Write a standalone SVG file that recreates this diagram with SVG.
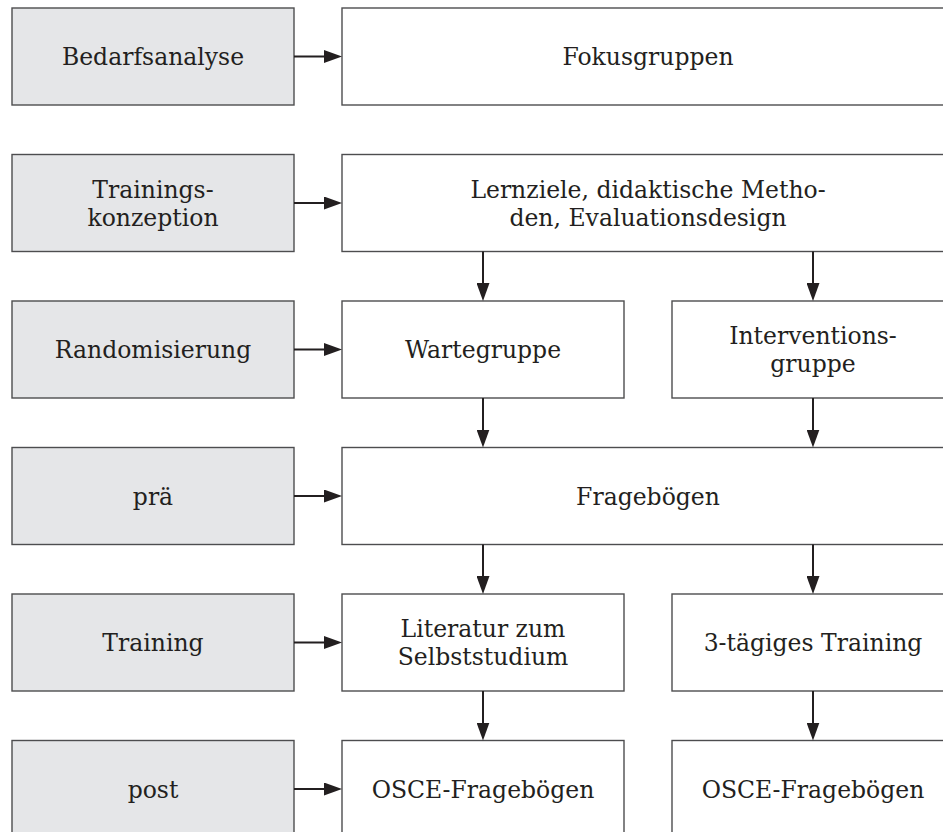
<svg xmlns="http://www.w3.org/2000/svg" width="943" height="832" viewBox="0 0 943 832">
<style>
  .bg { fill: #ffffff; }
  .lbox { fill: #e5e6e8; stroke: #4d4d4f; stroke-width: 1.4; }
  .rbox { fill: #ffffff; stroke: #4d4d4f; stroke-width: 1.4; }
  text { font-family: "DejaVu Serif", "Liberation Serif", serif; font-size: 23.5px; fill: #231f20; text-anchor: middle; }
  .conn line { stroke: #231f20; stroke-width: 2; fill: none; }
</style>
<defs>
  <marker id="ah" viewBox="0 0 18 13" refX="10" refY="6.5" markerWidth="18" markerHeight="13" markerUnits="userSpaceOnUse" orient="auto">
    <path d="M0,0 L18,6.5 L0,13 Z" fill="#231f20"/>
  </marker>
</defs>
<rect class="bg" x="0" y="0" width="943" height="832"/>

<g id="n-bedarf"><rect class="lbox" x="12" y="8" width="282" height="97"/><text x="153" y="65">Bedarfsanalyse</text></g>
<g id="n-fokus"><rect class="rbox" x="342" y="8" width="612" height="97"/><text x="648" y="65">Fokusgruppen</text></g>

<g id="n-konzeption"><rect class="lbox" x="12" y="154.5" width="282" height="97"/><text x="153" y="197.5">Trainings-</text><text x="153" y="225.5">konzeption</text></g>
<g id="n-lernziele"><rect class="rbox" x="342" y="154.5" width="612" height="97"/><text x="648" y="197.5">Lernziele, didaktische Metho-</text><text x="648" y="225.5">den, Evaluationsdesign</text></g>

<g id="n-random"><rect class="lbox" x="12" y="301" width="282" height="97"/><text x="153" y="358">Randomisierung</text></g>
<g id="n-warte"><rect class="rbox" x="342" y="301" width="282" height="97"/><text x="483" y="358">Wartegruppe</text></g>
<g id="n-interv"><rect class="rbox" x="672" y="301" width="282" height="97"/><text x="813" y="344">Interventions-</text><text x="813" y="372">gruppe</text></g>

<g id="n-prae"><rect class="lbox" x="12" y="447.5" width="282" height="97"/><text x="153" y="504.5">prä</text></g>
<g id="n-frage"><rect class="rbox" x="342" y="447.5" width="612" height="97"/><text x="648" y="504.5">Fragebögen</text></g>

<g id="n-training"><rect class="lbox" x="12" y="594" width="282" height="97"/><text x="153" y="651">Training</text></g>
<g id="n-literatur"><rect class="rbox" x="342" y="594" width="282" height="97"/><text x="483" y="637">Literatur zum</text><text x="483" y="665">Selbststudium</text></g>
<g id="n-3tag"><rect class="rbox" x="672" y="594" width="282" height="97"/><text x="813" y="651">3-tägiges Training</text></g>

<g id="n-post"><rect class="lbox" x="12" y="740.5" width="282" height="97"/><text x="153" y="797.5">post</text></g>
<g id="n-osce1"><rect class="rbox" x="342" y="740.5" width="282" height="97"/><text x="483" y="797.5">OSCE-Fragebögen</text></g>
<g id="n-osce2"><rect class="rbox" x="672" y="740.5" width="282" height="97"/><text x="813" y="797.5">OSCE-Fragebögen</text></g>

<g id="connectors" class="conn">
  <line x1="294" y1="56.5" x2="334" y2="56.5" marker-end="url(#ah)"/>
  <line x1="294" y1="203" x2="334" y2="203" marker-end="url(#ah)"/>
  <line x1="294" y1="349.5" x2="334" y2="349.5" marker-end="url(#ah)"/>
  <line x1="294" y1="496" x2="334" y2="496" marker-end="url(#ah)"/>
  <line x1="294" y1="642.5" x2="334" y2="642.5" marker-end="url(#ah)"/>
  <line x1="294" y1="789" x2="334" y2="789" marker-end="url(#ah)"/>

  <line x1="483" y1="251.5" x2="483" y2="293" marker-end="url(#ah)"/>
  <line x1="813" y1="251.5" x2="813" y2="293" marker-end="url(#ah)"/>
  <line x1="483" y1="398" x2="483" y2="439.5" marker-end="url(#ah)"/>
  <line x1="813" y1="398" x2="813" y2="439.5" marker-end="url(#ah)"/>
  <line x1="483" y1="544.5" x2="483" y2="586" marker-end="url(#ah)"/>
  <line x1="813" y1="544.5" x2="813" y2="586" marker-end="url(#ah)"/>
  <line x1="483" y1="691" x2="483" y2="732.5" marker-end="url(#ah)"/>
  <line x1="813" y1="691" x2="813" y2="732.5" marker-end="url(#ah)"/>
</g>
</svg>
